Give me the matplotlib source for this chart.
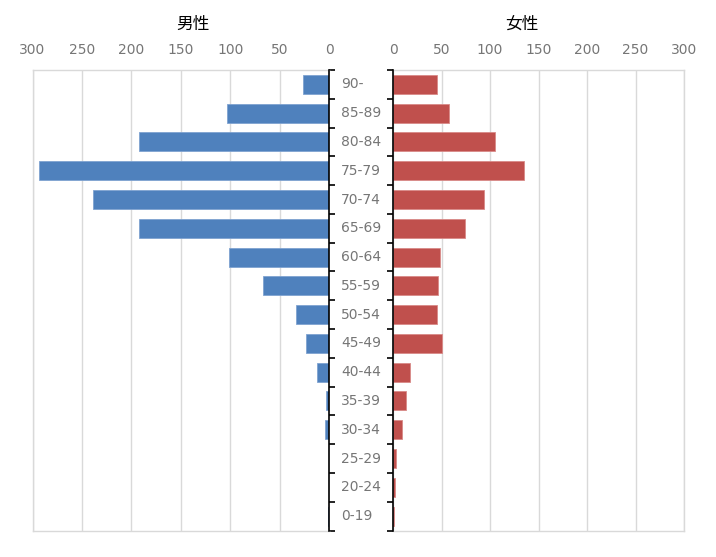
import matplotlib
matplotlib.use("Agg")
import matplotlib.pyplot as plt
import matplotlib.transforms as mtransforms
import numpy as np

plt.rcParams['font.family'] = ['DejaVu Sans', 'Noto Sans CJK JP']

# age groups, bottom to top
age_groups = ["0-19", "20-24", "25-29", "30-34", "35-39", "40-44", "45-49", "50-54",
              "55-59", "60-64", "65-69", "70-74", "75-79", "80-84", "85-89", "90-"]
male = [1, 0, 0, 4, 3, 12, 23, 33, 67, 101, 192, 239, 293, 192, 103, 26]
female = [1.5, 2.5, 3, 9, 13, 18, 50, 45, 46, 48, 74, 94, 135, 105, 58, 45]
x_ticks = [0, 50, 100, 150, 200, 250, 300]

BLUE = "#4F81BD"
RED = "#C0504D"
GRID = "#d9d9d9"
TEXT = "#767676"

W, H = 716, 557
fig = plt.figure(figsize=(W / 100, H / 100), dpi=100)

top, bottom = 70, 530.5
ax_l = fig.add_axes([32.5 / W, (H - bottom) / H, (329 - 32.5) / W, (bottom - top) / H])
ax_r = fig.add_axes([393 / W, (H - bottom) / H, (684 - 393) / W, (bottom - top) / H])

y = np.arange(len(age_groups))
ax_l.barh(y, male, height=0.66, color=BLUE, edgecolor="#7fa3d1", linewidth=0.6, zorder=3)
ax_r.barh(y, female, height=0.66, color=RED, edgecolor="#d88a88", linewidth=0.6, zorder=3)

for ax, inner in ((ax_l, "right"), (ax_r, "left")):
    ax.set_xlim(0, 300)
    ax.set_ylim(-0.5, len(age_groups) - 0.5)
    ax.set_xticks(x_ticks)
    ax.xaxis.tick_top()
    ax.tick_params(axis="x", length=0, pad=9.5, labelsize=10, labelcolor=TEXT)
    ax.grid(axis="x", color=GRID, linewidth=1, zorder=0)
    for side in ("top", "bottom", "left", "right"):
        ax.spines[side].set_color(GRID)
        ax.spines[side].set_linewidth(1)
    ax.spines[inner].set_color("black")
    ax.spines[inner].set_linewidth(1.2)
    ax.spines[inner].set_zorder(4)
    ax.set_yticks(np.arange(len(age_groups) + 1) - 0.5)
    ax.set_yticklabels([])
    ax.tick_params(axis="y", left=(inner == "left"), right=(inner == "right"),
                   direction="out", length=4, width=1.2, color="black")

ax_l.invert_xaxis()

# category labels in the gap between the two panels
trans = mtransforms.blended_transform_factory(fig.transFigure, ax_r.transData)
for yi, lab in zip(y, age_groups):
    ax_r.text(341 / W, yi, lab, transform=trans, ha="left", va="center",
              fontsize=10, color=TEXT, clip_on=False)

fig.text(193 / W, 1 - 24 / H, "男性", ha="center", va="center", fontsize=12,
         family=["Noto Sans CJK JP", "DejaVu Sans"], color="black")
fig.text(522 / W, 1 - 24 / H, "女性", ha="center", va="center", fontsize=12,
         family=["Noto Sans CJK JP", "DejaVu Sans"], color="black")

fig.savefig("out.png", dpi=100)
